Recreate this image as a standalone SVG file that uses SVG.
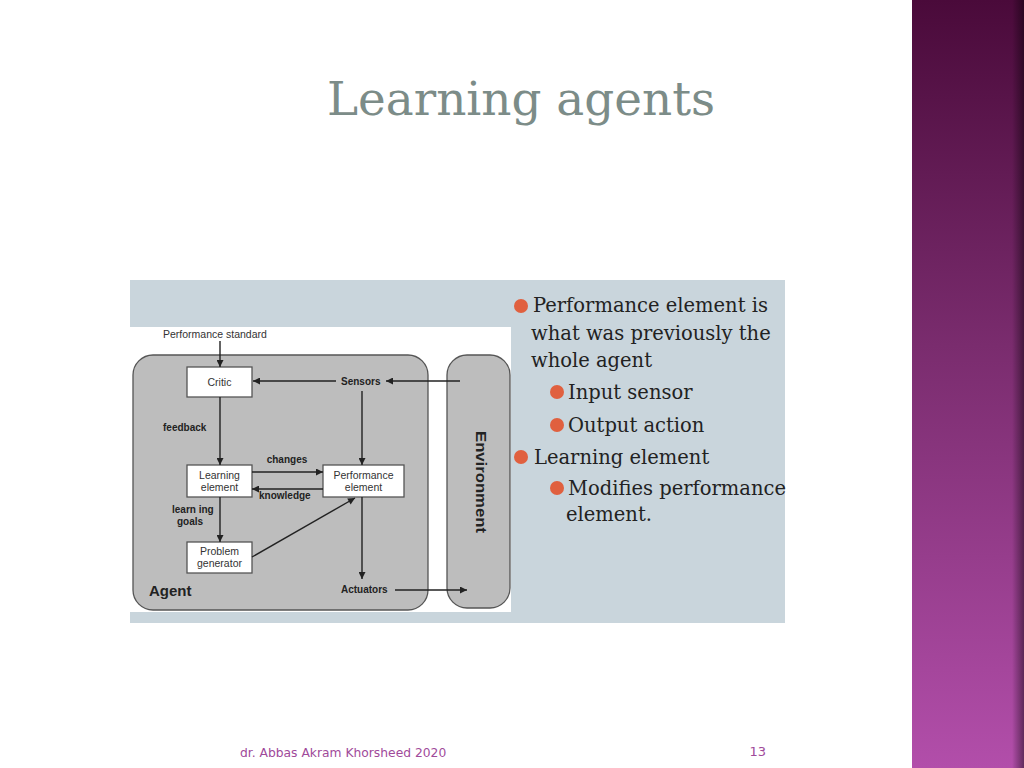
<svg xmlns="http://www.w3.org/2000/svg" width="1024" height="768" viewBox="0 0 1024 768">
<defs>
<linearGradient id="band" x1="0" y1="0" x2="0" y2="1">
<stop offset="0" stop-color="#4a0a3a"/>
<stop offset="0.45" stop-color="#7a2c6e"/>
<stop offset="1" stop-color="#b24eaa"/>
</linearGradient>
<linearGradient id="edge" x1="0" y1="0" x2="1" y2="0">
<stop offset="0" stop-color="#000" stop-opacity="0"/>
<stop offset="1" stop-color="#000" stop-opacity="0.45"/>
</linearGradient>
<marker id="ah" viewBox="0 0 10 10" refX="10" refY="5" markerWidth="9" markerHeight="7" markerUnits="userSpaceOnUse" orient="auto">
<path d="M0,0 L10,5 L0,10 z" fill="#222"/>
</marker>
<style>
.ln{stroke:#222;stroke-width:1.4;fill:none}
.box{fill:#fff;stroke:#555;stroke-width:1.3}
.bl{font-family:"Liberation Sans",Arial,sans-serif;font-size:10.5px;fill:#333}
.lb{font-family:"Liberation Sans",Arial,sans-serif;font-size:10px;font-weight:bold;fill:#222}
.tx{font-family:"DejaVu Serif","Liberation Serif",serif;font-size:19.5px;fill:#222}
.dot{fill:#e0603f}
</style>
</defs>
<rect x="0" y="0" width="1024" height="768" fill="#fff"/>
<rect x="912" y="0" width="112" height="768" fill="url(#band)"/>
<rect x="1012" y="0" width="12" height="768" fill="url(#edge)"/>
<text x="327" y="115" font-family="Georgia,'DejaVu Serif','Liberation Serif',serif" font-size="46" fill="#7c8c88" textLength="388" lengthAdjust="spacingAndGlyphs">Learning agents</text>

<rect x="130" y="280" width="655" height="343" fill="#c9d5dc"/>
<rect x="130" y="327" width="381" height="285" fill="#fff"/>

<g id="agent">
<rect x="133" y="355" width="295" height="255" rx="20" fill="#bdbdbd" stroke="#555" stroke-width="1.3"/>
<text x="149" y="596" font-family="'Liberation Sans',Arial,sans-serif" font-size="15" font-weight="bold" fill="#222">Agent</text>
</g>
<g id="environment">
<rect x="447" y="355" width="63" height="253" rx="20" fill="#bdbdbd" stroke="#555" stroke-width="1.3"/>
<text transform="translate(476,482) rotate(90)" text-anchor="middle" font-family="'Liberation Sans',Arial,sans-serif" font-size="14" font-weight="bold" fill="#222" textLength="102" lengthAdjust="spacingAndGlyphs">Environment</text>
</g>
<g id="critic">
<rect class="box" x="187" y="367" width="65" height="30"/>
<text class="bl" x="219.5" y="386" text-anchor="middle">Critic</text>
</g>
<g id="learning">
<rect class="box" x="187" y="465" width="65" height="32"/>
<text class="bl" x="219.5" y="479" text-anchor="middle">Learning</text>
<text class="bl" x="219.5" y="491" text-anchor="middle">element</text>
</g>
<g id="performance">
<rect class="box" x="323" y="465" width="81" height="32"/>
<text class="bl" x="363.5" y="479" text-anchor="middle">Performance</text>
<text class="bl" x="363.5" y="491" text-anchor="middle">element</text>
</g>
<g id="problem">
<rect class="box" x="187" y="542" width="65" height="31"/>
<text class="bl" x="219.5" y="555" text-anchor="middle">Problem</text>
<text class="bl" x="219.5" y="567" text-anchor="middle">generator</text>
</g>
<g id="sensors"><text class="lb" x="341" y="385">Sensors</text></g>
<g id="actuators"><text class="lb" x="341" y="593">Actuators</text></g>

<g id="connectors">
<line class="ln" x1="220" y1="341" x2="220" y2="367" marker-end="url(#ah)"/>
<line class="ln" x1="460" y1="381" x2="386" y2="381" marker-end="url(#ah)"/>
<line class="ln" x1="336" y1="381" x2="253" y2="381" marker-end="url(#ah)"/>
<line class="ln" x1="362" y1="391" x2="362" y2="465" marker-end="url(#ah)"/>
<line class="ln" x1="220" y1="397" x2="220" y2="465" marker-end="url(#ah)"/>
<line class="ln" x1="252" y1="472" x2="323" y2="472" marker-end="url(#ah)"/>
<line class="ln" x1="323" y1="489" x2="252" y2="489" marker-end="url(#ah)"/>
<line class="ln" x1="220" y1="497" x2="220" y2="542" marker-end="url(#ah)"/>
<line class="ln" x1="252" y1="557" x2="355" y2="498" marker-end="url(#ah)"/>
<line class="ln" x1="362" y1="497" x2="362" y2="579" marker-end="url(#ah)"/>
<line class="ln" x1="395" y1="590" x2="467" y2="590" marker-end="url(#ah)"/>
<text class="bl" x="163" y="338">Performance standard</text>
<text class="lb" x="163" y="431">feedback</text>
<text class="lb" x="287" y="463" text-anchor="middle">changes</text>
<text class="lb" x="259" y="499">knowledge</text>
<text class="lb" x="172" y="513">learn ing</text>
<text class="lb" x="177" y="525">goals</text>
</g>

<g id="bullets">
<circle class="dot" cx="521" cy="306" r="7"/>
<text class="tx" x="533" y="312">Performance element is</text>
<text class="tx" x="531" y="340">what was previously the</text>
<text class="tx" x="531" y="367">whole agent</text>
<circle class="dot" cx="557" cy="392" r="7"/>
<text class="tx" x="568" y="399">Input sensor</text>
<circle class="dot" cx="557" cy="425" r="7"/>
<text class="tx" x="568" y="432">Output action</text>
<circle class="dot" cx="521" cy="457" r="7"/>
<text class="tx" x="534" y="464">Learning element</text>
<circle class="dot" cx="557" cy="488" r="7"/>
<text class="tx" x="568" y="495">Modifies performance</text>
<text class="tx" x="566" y="521">element.</text>
</g>

<text x="240" y="757" font-family="'DejaVu Sans',sans-serif" font-size="12.3" fill="#a04a9a">dr. Abbas Akram Khorsheed 2020</text>
<text x="766" y="756" text-anchor="end" font-family="'DejaVu Sans',sans-serif" font-size="13" fill="#a04a9a">13</text>
</svg>
